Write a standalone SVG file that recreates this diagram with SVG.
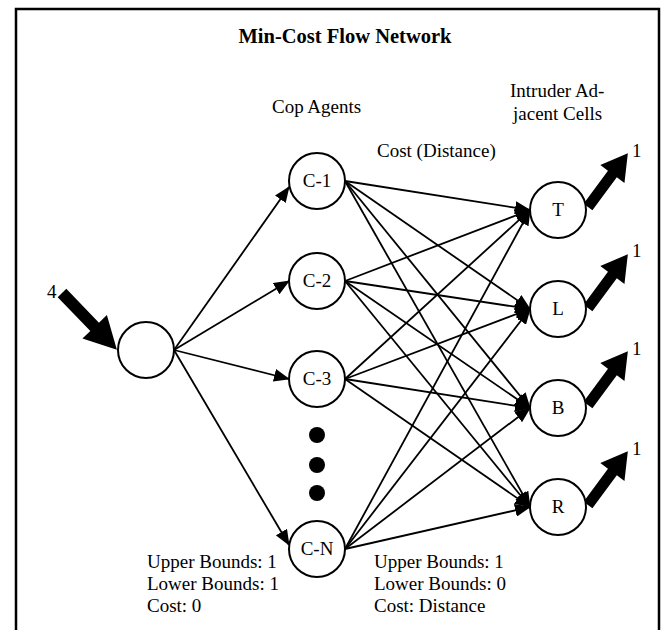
<svg xmlns="http://www.w3.org/2000/svg" width="665" height="630" viewBox="0 0 665 630">
<style>
text{font-family:"Liberation Serif","Times New Roman",serif;font-size:19px;fill:#000}
.title{font-weight:bold;font-size:20.5px}
.node{fill:#fff;stroke:#000;stroke-width:2}
.lab{text-anchor:middle}
.edge{stroke:#000;stroke-width:1.8;fill:none;marker-end:url(#ah)}
.thick{fill:#000}
.dot{fill:#000}
</style>
<defs>
<marker id="ah" markerUnits="userSpaceOnUse" markerWidth="16" markerHeight="13" refX="15" refY="6.5" orient="auto">
<path d="M0,0 L16,6.5 L0,13 z" fill="#000"/>
</marker>
</defs>
<rect width="665" height="630" fill="#fff"/>
<path d="M16,640 L16,9 L659,9 L659,640" fill="none" stroke="#000" stroke-width="2.5"/>
<text class="title lab" x="345" y="43">Min-Cost Flow Network</text>
<text x="272" y="113">Cop Agents</text>
<text x="510" y="97">Intruder Ad-</text>
<text x="513" y="120">jacent Cells</text>
<text x="377" y="157">Cost (Distance)</text>
<text x="147" y="568">Upper Bounds: 1</text>
<text x="147" y="590">Lower Bounds: 1</text>
<text x="147" y="612">Cost: 0</text>
<text x="374" y="568">Upper Bounds: 1</text>
<text x="374" y="590">Lower Bounds: 0</text>
<text x="374" y="612">Cost: Distance</text>
<g id="connectors">
<line class="edge" x1="174" y1="350" x2="289" y2="187"/>
<line class="edge" x1="174" y1="350" x2="289" y2="281"/>
<line class="edge" x1="174" y1="350" x2="289" y2="379"/>
<line class="edge" x1="174" y1="350" x2="289" y2="545"/>
<line class="edge" x1="345" y1="181" x2="530" y2="210"/>
<line class="edge" x1="345" y1="181" x2="530" y2="309"/>
<line class="edge" x1="345" y1="181" x2="530" y2="408"/>
<line class="edge" x1="345" y1="181" x2="530" y2="507"/>
<line class="edge" x1="345" y1="281" x2="530" y2="210"/>
<line class="edge" x1="345" y1="281" x2="530" y2="309"/>
<line class="edge" x1="345" y1="281" x2="530" y2="408"/>
<line class="edge" x1="345" y1="281" x2="530" y2="507"/>
<line class="edge" x1="345" y1="379" x2="530" y2="210"/>
<line class="edge" x1="345" y1="379" x2="530" y2="309"/>
<line class="edge" x1="345" y1="379" x2="530" y2="408"/>
<line class="edge" x1="345" y1="379" x2="530" y2="507"/>
<line class="edge" x1="345" y1="549" x2="530" y2="210"/>
<line class="edge" x1="345" y1="549" x2="530" y2="309"/>
<line class="edge" x1="345" y1="549" x2="530" y2="408"/>
<line class="edge" x1="345" y1="549" x2="530" y2="507"/>
<polygon class="thick" transform="translate(62,293) rotate(46)" points="0,-6 47,-6 47,-17 79,0 47,17 47,6 0,6"/>
<polygon class="thick" transform="translate(588,207) rotate(-53.5)" points="0,-5.5 41,-5.5 41,-15 67,0 41,15 41,5.5 0,5.5"/>
<polygon class="thick" transform="translate(588,308) rotate(-53.5)" points="0,-5.5 41,-5.5 41,-15 67,0 41,15 41,5.5 0,5.5"/>
<polygon class="thick" transform="translate(588,405) rotate(-53.5)" points="0,-5.5 41,-5.5 41,-15 67,0 41,15 41,5.5 0,5.5"/>
<polygon class="thick" transform="translate(588,505) rotate(-53.5)" points="0,-5.5 41,-5.5 41,-15 67,0 41,15 41,5.5 0,5.5"/>
<text x="47" y="298">4</text>
<text x="632" y="157">1</text>
<text x="632" y="257">1</text>
<text x="632" y="355">1</text>
<text x="632" y="455">1</text>
</g>
<g id="source"><circle class="node" cx="146" cy="350" r="28"/></g>
<g id="c1"><circle class="node" cx="317" cy="181" r="28"/><text class="lab" x="317" y="187">C-1</text></g>
<g id="c2"><circle class="node" cx="317" cy="281" r="28"/><text class="lab" x="317" y="287">C-2</text></g>
<g id="c3"><circle class="node" cx="317" cy="379" r="28"/><text class="lab" x="317" y="385">C-3</text></g>
<g id="dots"><circle class="dot" cx="317" cy="435" r="8"/><circle class="dot" cx="317" cy="465" r="8"/><circle class="dot" cx="317" cy="493" r="8"/></g>
<g id="cn"><circle class="node" cx="317" cy="549" r="28"/><text class="lab" x="317" y="555">C-N</text></g>
<g id="t"><circle class="node" cx="558" cy="210" r="28"/><text class="lab" x="558" y="216">T</text></g>
<g id="l"><circle class="node" cx="558" cy="309" r="28"/><text class="lab" x="558" y="315">L</text></g>
<g id="b"><circle class="node" cx="558" cy="408" r="28"/><text class="lab" x="558" y="414">B</text></g>
<g id="r"><circle class="node" cx="558" cy="507" r="28"/><text class="lab" x="558" y="513">R</text></g>
</svg>
